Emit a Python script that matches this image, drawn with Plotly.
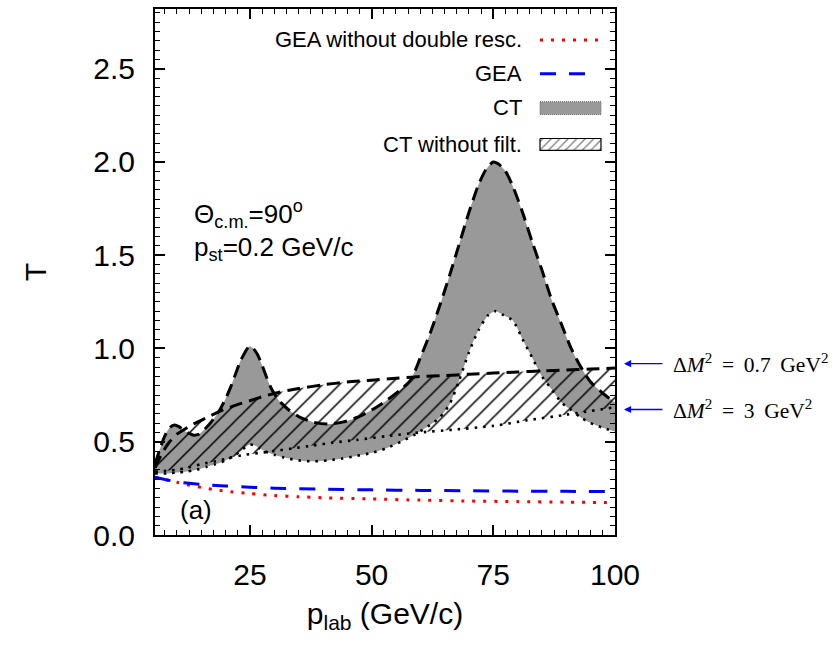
import plotly.graph_objects as go

# ---------------- data ----------------
# GEA without double rescattering (red dotted)
gea_nd_x = [5.5, 8, 10, 12, 15, 18, 21, 25, 30, 35, 40, 50, 60, 70, 80, 90, 100]
gea_nd_y = [0.31, 0.295, 0.283, 0.27, 0.255, 0.242, 0.232, 0.222, 0.212, 0.205,
            0.2, 0.193, 0.187, 0.182, 0.179, 0.176, 0.174]

# GEA (blue dashed)
gea_x = [5.5, 8, 10, 13, 16, 20, 25, 30, 40, 50, 60, 70, 80, 90, 100]
gea_y = [0.31, 0.295, 0.285, 0.276, 0.269, 0.263, 0.256, 0.251, 0.246, 0.242,
         0.239, 0.237, 0.235, 0.234, 0.233]

# CT (with filtering) upper bound, dM^2 = 0.7 GeV^2 (black dashed)
ct_up_x = [5.5, 6.5, 7.5, 8.5, 9.5, 10.5, 11.5, 12.5, 13.5, 14.5, 16, 17.5, 19, 20,
           21, 22, 23, 24, 24.8, 25.5, 26.5, 27.5, 28.5, 29.5, 31, 33, 35, 38, 41,
           44, 47, 50, 53, 56, 58, 60, 62, 64, 66, 68, 70, 72, 73.5, 75, 76, 77.5,
           79, 81, 83, 85, 87, 89, 91, 93, 95, 97.5, 100]
ct_up_y = [0.38, 0.46, 0.53, 0.575, 0.59, 0.58, 0.56, 0.545, 0.535, 0.54, 0.575,
           0.62, 0.68, 0.73, 0.79, 0.86, 0.93, 0.98, 1.01, 1.005, 0.97, 0.91, 0.84,
           0.78, 0.72, 0.67, 0.635, 0.605, 0.595, 0.605, 0.63, 0.67, 0.72, 0.78,
           0.83, 0.95, 1.08, 1.23, 1.39, 1.56, 1.73, 1.88, 1.96, 2.0, 1.99, 1.95,
           1.87, 1.73, 1.57, 1.42, 1.26, 1.13, 1.00, 0.90, 0.82, 0.76, 0.71]

# CT (with filtering) lower bound, dM^2 = 3 GeV^2 (black dotted)
ct_lo_x = [5.5, 8, 10, 12, 14, 16, 18, 20, 22, 23.5, 25, 26, 27, 28, 30, 32, 35, 38,
           41, 44, 47, 50, 53, 56, 59, 62, 64, 66, 68, 70, 72, 74, 75.5, 77, 79, 81,
           83, 85, 87, 89, 91, 93, 95, 97.5, 100]
ct_lo_y = [0.33, 0.33, 0.335, 0.34, 0.35, 0.365, 0.38, 0.40, 0.43, 0.46, 0.485, 0.48,
           0.465, 0.45, 0.43, 0.415, 0.40, 0.395, 0.40, 0.41, 0.425, 0.44, 0.465,
           0.50, 0.54, 0.59, 0.63, 0.70, 0.83, 0.98, 1.10, 1.18, 1.20, 1.18, 1.15,
           1.05, 0.95, 0.85, 0.78, 0.71, 0.67, 0.63, 0.60, 0.575, 0.555]

# CT without filtering, upper bound dM^2 = 0.7 (black dashed)
nf_up_x = [5.5, 7, 8.5, 10, 11.5, 13, 15, 17, 19, 22, 25, 28, 31, 35, 40, 45, 50,
           55, 60, 65, 70, 75, 80, 85, 90, 95, 100]
nf_up_y = [0.36, 0.44, 0.50, 0.54, 0.565, 0.59, 0.615, 0.64, 0.665, 0.695, 0.72,
           0.745, 0.765, 0.785, 0.805, 0.82, 0.83, 0.84, 0.85, 0.855, 0.862, 0.868,
           0.874, 0.88, 0.885, 0.89, 0.895]

# CT without filtering, lower bound dM^2 = 3 (black dotted)
nf_lo_x = [5.5, 8, 10, 12, 15, 18, 21, 24, 27, 30, 34, 38, 42, 47, 53, 60, 67, 75,
           82, 90, 100]
nf_lo_y = [0.34, 0.345, 0.35, 0.36, 0.38, 0.395, 0.415, 0.43, 0.44, 0.45, 0.465,
           0.48, 0.495, 0.51, 0.53, 0.55, 0.565, 0.585, 0.615, 0.645, 0.685]

x_ticks = [25, 50, 75, 100]
legend_labels = ["GEA without double resc.", "GEA", "CT", "CT without filt."]

# ---------------- styling ----------------
GRAY = "#999999"
FONT = "Liberation Sans"
SM = 0.7

fig = go.Figure()

# gray CT band
fig.add_trace(go.Scatter(x=ct_lo_x, y=ct_lo_y, mode="lines", line=dict(width=0, shape="spline", smoothing=SM),
                         showlegend=False, hoverinfo="skip"))
fig.add_trace(go.Scatter(x=ct_up_x, y=ct_up_y, mode="lines", line=dict(width=0, shape="spline", smoothing=SM),
                         fill="tonexty", fillcolor=GRAY, showlegend=False, hoverinfo="skip"))
# hatched band (CT without filtering)
fig.add_trace(go.Scatter(x=nf_lo_x, y=nf_lo_y, mode="lines", line=dict(width=0, shape="spline", smoothing=SM),
                         showlegend=False, hoverinfo="skip"))
fig.add_trace(go.Scatter(x=nf_up_x, y=nf_up_y, mode="lines", line=dict(width=0, shape="spline", smoothing=SM),
                         fill="tonexty", fillcolor="rgba(0,0,0,0)",
                         fillpattern=dict(shape="/", size=12, solidity=0.13, fgcolor="black",
                                          bgcolor="rgba(0,0,0,0)", fgopacity=1),
                         showlegend=False, hoverinfo="skip"))

# boundary lines
DASH_K = "13px,7px"
DOT_K = "2.5px,6px"
for xs, ys, dash in [(ct_up_x, ct_up_y, DASH_K), (ct_lo_x, ct_lo_y, DOT_K),
                     (nf_up_x, nf_up_y, DASH_K), (nf_lo_x, nf_lo_y, DOT_K)]:
    fig.add_trace(go.Scatter(x=xs, y=ys, mode="lines",
                             line=dict(color="black", width=3 if dash == DASH_K else 2.6,
                                       dash=dash, shape="spline", smoothing=SM),
                             showlegend=False, hoverinfo="skip"))

fig.add_trace(go.Scatter(x=gea_nd_x, y=gea_nd_y, mode="lines",
                         line=dict(color="red", width=3, dash="3px,8px", shape="spline", smoothing=SM),
                         showlegend=False))
fig.add_trace(go.Scatter(x=gea_x, y=gea_y, mode="lines",
                         line=dict(color="blue", width=3, dash="16px,13px", shape="spline", smoothing=SM),
                         showlegend=False))

# ---------------- hand-made legend (text left, key right) ----------------
W, H = 837, 645
L, R, T, B = 155, 615, 7, 535
def px(p):
    return (p - L) / (R - L)
def py(p):
    return (B - p) / (B - T)

key_x0, key_x1 = px(540), px(601)
row_y = [38, 72, 106, 143]

fig.add_trace(go.Scatter(x=[px(540), px(598)], y=[py(row_y[0])] * 2, xaxis="x2", yaxis="y2",
                         mode="lines", line=dict(color="red", width=3, dash="3px,8px"),
                         showlegend=False, hoverinfo="skip"))
fig.add_trace(go.Scatter(x=[px(540), px(588)], y=[py(row_y[1])] * 2, xaxis="x2", yaxis="y2",
                         mode="lines", line=dict(color="blue", width=3, dash="16px,13px"),
                         showlegend=False, hoverinfo="skip"))
fig.add_trace(go.Scatter(x=[key_x0, key_x1, key_x1, key_x0, key_x0],
                         y=[py(100), py(100), py(113), py(113), py(100)], xaxis="x2", yaxis="y2",
                         mode="lines", fill="toself", fillcolor=GRAY,
                         line=dict(color="#666666", width=1, dash="1px,1px"),
                         showlegend=False, hoverinfo="skip"))
fig.add_trace(go.Scatter(x=[key_x0, key_x1, key_x1, key_x0, key_x0],
                         y=[py(137), py(137), py(149), py(149), py(137)], xaxis="x2", yaxis="y2",
                         mode="lines", fill="toself", fillcolor="rgba(0,0,0,0)",
                         fillpattern=dict(shape="/", size=6, solidity=0.22, fgcolor="black",
                                          bgcolor="rgba(0,0,0,0)"),
                         line=dict(color="black", width=1.2),
                         showlegend=False, hoverinfo="skip"))

annotations = []
for lbl, yy in zip(legend_labels, row_y):
    annotations.append(dict(x=px(524), y=py(yy), xref="paper", yref="paper", text=lbl,
                            showarrow=False, xanchor="right", yanchor="middle",
                            font=dict(family=FONT, size=22, color="black")))

annotations += [
    dict(x=px(192), y=py(213), xref="paper", yref="paper",
         text="Θ<sub>c.m.</sub>=90<sup>o</sup>", showarrow=False, xanchor="left", yanchor="middle",
         font=dict(family=FONT, size=26, color="black")),
    dict(x=px(192), y=py(247), xref="paper", yref="paper",
         text="p<sub>st</sub>=0.2 GeV/c", showarrow=False, xanchor="left", yanchor="middle",
         font=dict(family=FONT, size=26, color="black")),
    dict(x=px(178), y=py(510), xref="paper", yref="paper",
         text="(a)", showarrow=False, xanchor="left", yanchor="middle",
         font=dict(family=FONT, size=26, color="black")),
]

# right-side arrows and labels
SP = "\u2009"
for yy, txt in [(363, "Δ<i>M</i><sup>2</sup>" + SP + " = " + SP + "0.7" + SP + " GeV<sup>2</sup>"),
                (409, "Δ<i>M</i><sup>2</sup>" + SP + " = " + SP + "3" + SP + " GeV<sup>2</sup>")]:
    annotations.append(dict(x=px(624), y=py(yy), xref="paper", yref="paper", text="",
                            showarrow=True, ax=40, ay=0, arrowhead=2, arrowsize=1.1,
                            arrowwidth=1.3, arrowcolor="blue"))
    annotations.append(dict(x=px(671), y=py(yy), xref="paper", yref="paper", text=txt,
                            showarrow=False, xanchor="left", yanchor="middle",
                            font=dict(family="Liberation Serif", size=21.5, color="black")))

axis_common = dict(showline=True, linewidth=2, linecolor="black", mirror="ticks",
                   ticks="inside", ticklen=10, tickwidth=1.5, tickcolor="black",
                   showgrid=False, zeroline=False,
                   tickfont=dict(family=FONT, size=30, color="black"))

fig.update_layout(
    width=W, height=H,
    margin=dict(l=L, r=W - R, t=T, b=H - B),
    paper_bgcolor="white", plot_bgcolor="white",
    showlegend=False,
    xaxis=dict(range=[5.5, 100], tickvals=x_ticks, ticklabelstandoff=12,
               minor=dict(dtick=2.5, ticklen=5, ticks="inside", tickwidth=1, tickcolor="black"),
               title=dict(text="p<sub>lab</sub> (GeV/c)", standoff=13,
                          font=dict(family=FONT, size=30, color="black")),
               **axis_common),
    yaxis=dict(range=[0, 2.82], dtick=0.5, tickformat=".1f", ticklabelstandoff=12,
               minor=dict(dtick=0.05, ticklen=5, ticks="inside", tickwidth=1, tickcolor="black"),
               title=dict(text="T", standoff=38, font=dict(family=FONT, size=30, color="black")),
               **axis_common),
    xaxis2=dict(overlaying="x", range=[0, 1], visible=False, fixedrange=True),
    yaxis2=dict(overlaying="y", range=[0, 1], visible=False, fixedrange=True),
    annotations=annotations,
)

fig.write_html("out.html", config={"displayModeBar": False},
               post_script="document.body.style.margin='0px';")
